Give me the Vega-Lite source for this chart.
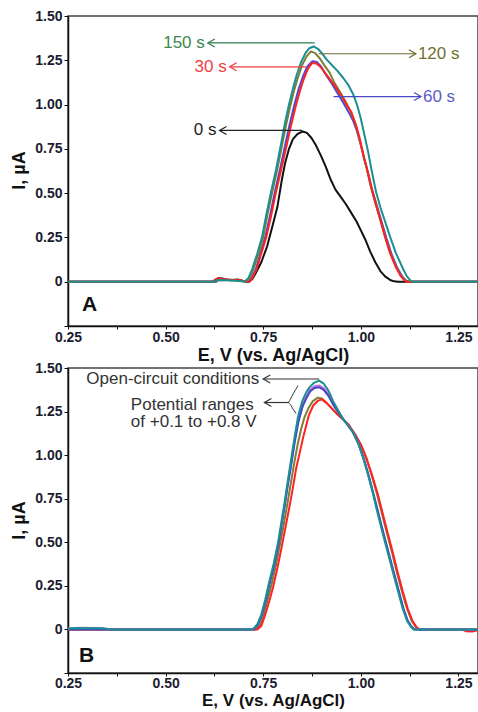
{
  "$schema": "https://vega.github.io/schema/vega-lite/v6.json",
  "padding": {"left": 10, "top": 8, "right": 0, "bottom": 0},
  "spacing": -5,
  "config": {
    "font": "Liberation Sans",
    "view": {"stroke": "#444", "strokeWidth": 1.5},
    "axis": {
      "grid": false,
      "labelFont": "Liberation Sans", "labelFontWeight": "bold", "labelFontSize": 14, "labelColor": "#1c1c30",
      "titleFont": "Liberation Sans", "titleFontWeight": "bold", "titleFontSize": 18, "titleColor": "#111",
      "domainColor": "#111", "domainWidth": 1.5, "tickColor": "#111", "tickWidth": 1
    }
  },
  "datasets": {
    "curvesA": [
      {"s":"0 s","E":0.25,"I":0},{"s":"0 s","E":0.62,"I":0},{"s":"0 s","E":0.628,"I":0.012},{"s":"0 s","E":0.635,"I":0.02},{"s":"0 s","E":0.645,"I":0.018},{"s":"0 s","E":0.655,"I":0.012},{"s":"0 s","E":0.67,"I":0.01},{"s":"0 s","E":0.685,"I":0.012},{"s":"0 s","E":0.695,"I":0.006},{"s":"0 s","E":0.705,"I":0.002},{"s":"0 s","E":0.714,"I":0},{"s":"0 s","E":0.722,"I":0.015},{"s":"0 s","E":0.73,"I":0.045},{"s":"0 s","E":0.745,"I":0.11},{"s":"0 s","E":0.76,"I":0.2},{"s":"0 s","E":0.772,"I":0.3},{"s":"0 s","E":0.786,"I":0.42},{"s":"0 s","E":0.798,"I":0.58},{"s":"0 s","E":0.806,"I":0.67},{"s":"0 s","E":0.816,"I":0.75},{"s":"0 s","E":0.826,"I":0.805},{"s":"0 s","E":0.838,"I":0.835},{"s":"0 s","E":0.851,"I":0.848},{"s":"0 s","E":0.862,"I":0.84},{"s":"0 s","E":0.874,"I":0.81},{"s":"0 s","E":0.885,"I":0.77},{"s":"0 s","E":0.898,"I":0.71},{"s":"0 s","E":0.91,"I":0.65},{"s":"0 s","E":0.922,"I":0.58},{"s":"0 s","E":0.935,"I":0.52},{"s":"0 s","E":0.948,"I":0.48},{"s":"0 s","E":0.961,"I":0.44},{"s":"0 s","E":0.975,"I":0.39},{"s":"0 s","E":0.989,"I":0.34},{"s":"0 s","E":1.0,"I":0.29},{"s":"0 s","E":1.011,"I":0.24},{"s":"0 s","E":1.024,"I":0.17},{"s":"0 s","E":1.037,"I":0.11},{"s":"0 s","E":1.05,"I":0.06},{"s":"0 s","E":1.062,"I":0.03},{"s":"0 s","E":1.075,"I":0.01},{"s":"0 s","E":1.085,"I":0.002},{"s":"0 s","E":1.095,"I":0},{"s":"0 s","E":1.3,"I":0},

      {"s":"60 s","E":0.25,"I":0},{"s":"60 s","E":0.63,"I":0},{"s":"60 s","E":0.635,"I":0.012},{"s":"60 s","E":0.66,"I":0.01},{"s":"60 s","E":0.69,"I":0.008},{"s":"60 s","E":0.7,"I":0.003},{"s":"60 s","E":0.712,"I":0},{"s":"60 s","E":0.72,"I":0.02},{"s":"60 s","E":0.731,"I":0.07},{"s":"60 s","E":0.743,"I":0.16},{"s":"60 s","E":0.756,"I":0.26},{"s":"60 s","E":0.768,"I":0.38},{"s":"60 s","E":0.78,"I":0.51},{"s":"60 s","E":0.794,"I":0.645},{"s":"60 s","E":0.806,"I":0.77},{"s":"60 s","E":0.818,"I":0.89},{"s":"60 s","E":0.83,"I":1.0},{"s":"60 s","E":0.841,"I":1.09},{"s":"60 s","E":0.852,"I":1.16},{"s":"60 s","E":0.863,"I":1.215},{"s":"60 s","E":0.876,"I":1.245},{"s":"60 s","E":0.887,"I":1.24},{"s":"60 s","E":0.898,"I":1.215},{"s":"60 s","E":0.91,"I":1.17},{"s":"60 s","E":0.925,"I":1.12},{"s":"60 s","E":0.94,"I":1.065},{"s":"60 s","E":0.955,"I":1.01},{"s":"60 s","E":0.968,"I":0.96},{"s":"60 s","E":0.98,"I":0.91},{"s":"60 s","E":0.99,"I":0.85},{"s":"60 s","E":1.0,"I":0.77},{"s":"60 s","E":1.01,"I":0.68},{"s":"60 s","E":1.019,"I":0.61},{"s":"60 s","E":1.03,"I":0.51},{"s":"60 s","E":1.041,"I":0.43},{"s":"60 s","E":1.053,"I":0.34},{"s":"60 s","E":1.065,"I":0.25},{"s":"60 s","E":1.078,"I":0.16},{"s":"60 s","E":1.093,"I":0.08},{"s":"60 s","E":1.106,"I":0.03},{"s":"60 s","E":1.115,"I":0.008},{"s":"60 s","E":1.122,"I":0},{"s":"60 s","E":1.3,"I":0},

      {"s":"120 s","E":0.25,"I":0},{"s":"120 s","E":0.628,"I":0},{"s":"120 s","E":0.632,"I":0.01},{"s":"120 s","E":0.66,"I":0.008},{"s":"120 s","E":0.69,"I":0.006},{"s":"120 s","E":0.7,"I":0.002},{"s":"120 s","E":0.706,"I":0},{"s":"120 s","E":0.715,"I":0.02},{"s":"120 s","E":0.725,"I":0.07},{"s":"120 s","E":0.738,"I":0.16},{"s":"120 s","E":0.75,"I":0.253},{"s":"120 s","E":0.761,"I":0.38},{"s":"120 s","E":0.773,"I":0.506},{"s":"120 s","E":0.786,"I":0.635},{"s":"120 s","E":0.798,"I":0.77},{"s":"120 s","E":0.809,"I":0.89},{"s":"120 s","E":0.819,"I":0.99},{"s":"120 s","E":0.829,"I":1.08},{"s":"120 s","E":0.839,"I":1.155},{"s":"120 s","E":0.85,"I":1.225},{"s":"120 s","E":0.861,"I":1.272},{"s":"120 s","E":0.872,"I":1.3},{"s":"120 s","E":0.883,"I":1.29},{"s":"120 s","E":0.895,"I":1.26},{"s":"120 s","E":0.907,"I":1.22},{"s":"120 s","E":0.92,"I":1.18},{"s":"120 s","E":0.933,"I":1.12},{"s":"120 s","E":0.947,"I":1.07},{"s":"120 s","E":0.96,"I":1.02},{"s":"120 s","E":0.973,"I":0.965},{"s":"120 s","E":0.985,"I":0.9},{"s":"120 s","E":0.995,"I":0.82},{"s":"120 s","E":1.005,"I":0.73},{"s":"120 s","E":1.014,"I":0.65},{"s":"120 s","E":1.024,"I":0.55},{"s":"120 s","E":1.035,"I":0.46},{"s":"120 s","E":1.047,"I":0.37},{"s":"120 s","E":1.06,"I":0.27},{"s":"120 s","E":1.073,"I":0.18},{"s":"120 s","E":1.088,"I":0.095},{"s":"120 s","E":1.102,"I":0.035},{"s":"120 s","E":1.112,"I":0.01},{"s":"120 s","E":1.12,"I":0},{"s":"120 s","E":1.3,"I":0},

      {"s":"30 s","E":0.25,"I":0},{"s":"30 s","E":0.62,"I":0},{"s":"30 s","E":0.628,"I":0.012},{"s":"30 s","E":0.635,"I":0.02},{"s":"30 s","E":0.645,"I":0.016},{"s":"30 s","E":0.66,"I":0.012},{"s":"30 s","E":0.675,"I":0.01},{"s":"30 s","E":0.69,"I":0.01},{"s":"30 s","E":0.7,"I":0.004},{"s":"30 s","E":0.714,"I":0},{"s":"30 s","E":0.722,"I":0.02},{"s":"30 s","E":0.733,"I":0.07},{"s":"30 s","E":0.745,"I":0.16},{"s":"30 s","E":0.758,"I":0.253},{"s":"30 s","E":0.77,"I":0.37},{"s":"30 s","E":0.782,"I":0.5},{"s":"30 s","E":0.796,"I":0.635},{"s":"30 s","E":0.808,"I":0.75},{"s":"30 s","E":0.82,"I":0.87},{"s":"30 s","E":0.832,"I":0.98},{"s":"30 s","E":0.843,"I":1.07},{"s":"30 s","E":0.853,"I":1.14},{"s":"30 s","E":0.864,"I":1.2},{"s":"30 s","E":0.875,"I":1.235},{"s":"30 s","E":0.886,"I":1.232},{"s":"30 s","E":0.897,"I":1.212},{"s":"30 s","E":0.908,"I":1.18},{"s":"30 s","E":0.92,"I":1.145},{"s":"30 s","E":0.935,"I":1.1},{"s":"30 s","E":0.95,"I":1.05},{"s":"30 s","E":0.963,"I":1.0},{"s":"30 s","E":0.976,"I":0.955},{"s":"30 s","E":0.988,"I":0.88},{"s":"30 s","E":0.998,"I":0.8},{"s":"30 s","E":1.008,"I":0.7},{"s":"30 s","E":1.016,"I":0.635},{"s":"30 s","E":1.027,"I":0.53},{"s":"30 s","E":1.038,"I":0.44},{"s":"30 s","E":1.05,"I":0.35},{"s":"30 s","E":1.062,"I":0.253},{"s":"30 s","E":1.075,"I":0.16},{"s":"30 s","E":1.09,"I":0.08},{"s":"30 s","E":1.103,"I":0.03},{"s":"30 s","E":1.112,"I":0.008},{"s":"30 s","E":1.118,"I":0},{"s":"30 s","E":1.3,"I":0},

      {"s":"150 s","E":0.25,"I":0},{"s":"150 s","E":0.628,"I":0},{"s":"150 s","E":0.632,"I":0.01},{"s":"150 s","E":0.66,"I":0.008},{"s":"150 s","E":0.68,"I":0.006},{"s":"150 s","E":0.695,"I":0.003},{"s":"150 s","E":0.702,"I":0},{"s":"150 s","E":0.712,"I":0.02},{"s":"150 s","E":0.722,"I":0.073},{"s":"150 s","E":0.735,"I":0.16},{"s":"150 s","E":0.747,"I":0.253},{"s":"150 s","E":0.758,"I":0.38},{"s":"150 s","E":0.77,"I":0.506},{"s":"150 s","E":0.783,"I":0.635},{"s":"150 s","E":0.795,"I":0.77},{"s":"150 s","E":0.806,"I":0.9},{"s":"150 s","E":0.816,"I":1.0},{"s":"150 s","E":0.826,"I":1.09},{"s":"150 s","E":0.836,"I":1.17},{"s":"150 s","E":0.847,"I":1.24},{"s":"150 s","E":0.858,"I":1.29},{"s":"150 s","E":0.868,"I":1.318},{"s":"150 s","E":0.879,"I":1.328},{"s":"150 s","E":0.89,"I":1.315},{"s":"150 s","E":0.9,"I":1.29},{"s":"150 s","E":0.912,"I":1.255},{"s":"150 s","E":0.925,"I":1.225},{"s":"150 s","E":0.94,"I":1.19},{"s":"150 s","E":0.955,"I":1.15},{"s":"150 s","E":0.968,"I":1.11},{"s":"150 s","E":0.98,"I":1.06},{"s":"150 s","E":0.99,"I":1.0},{"s":"150 s","E":1.0,"I":0.92},{"s":"150 s","E":1.01,"I":0.82},{"s":"150 s","E":1.018,"I":0.74},{"s":"150 s","E":1.027,"I":0.635},{"s":"150 s","E":1.039,"I":0.506},{"s":"150 s","E":1.05,"I":0.42},{"s":"150 s","E":1.062,"I":0.34},{"s":"150 s","E":1.075,"I":0.253},{"s":"150 s","E":1.09,"I":0.16},{"s":"150 s","E":1.108,"I":0.073},{"s":"150 s","E":1.118,"I":0.03},{"s":"150 s","E":1.128,"I":0.005},{"s":"150 s","E":1.135,"I":0},{"s":"150 s","E":1.3,"I":0}
    ],
    "curvesB": [
      {"s":"R4","E":0.25,"I":0},{"s":"R4","E":0.73,"I":0},{"s":"R4","E":0.741,"I":0.02},{"s":"R4","E":0.75,"I":0.075},{"s":"R4","E":0.76,"I":0.16},{"s":"R4","E":0.771,"I":0.255},{"s":"R4","E":0.782,"I":0.365},{"s":"R4","E":0.792,"I":0.48},{"s":"R4","E":0.802,"I":0.595},{"s":"R4","E":0.811,"I":0.71},{"s":"R4","E":0.82,"I":0.83},{"s":"R4","E":0.829,"I":0.95},{"s":"R4","E":0.838,"I":1.06},{"s":"R4","E":0.847,"I":1.15},{"s":"R4","E":0.856,"I":1.22},{"s":"R4","E":0.866,"I":1.27},{"s":"R4","E":0.877,"I":1.31},{"s":"R4","E":0.89,"I":1.33},{"s":"R4","E":0.9,"I":1.325},{"s":"R4","E":0.912,"I":1.3},{"s":"R4","E":0.925,"I":1.27},{"s":"R4","E":0.94,"I":1.235},{"s":"R4","E":0.957,"I":1.2},{"s":"R4","E":0.97,"I":1.17},{"s":"R4","E":0.985,"I":1.12},{"s":"R4","E":1.0,"I":1.06},{"s":"R4","E":1.013,"I":0.99},{"s":"R4","E":1.027,"I":0.89},{"s":"R4","E":1.041,"I":0.78},{"s":"R4","E":1.054,"I":0.665},{"s":"R4","E":1.067,"I":0.55},{"s":"R4","E":1.08,"I":0.44},{"s":"R4","E":1.092,"I":0.33},{"s":"R4","E":1.105,"I":0.22},{"s":"R4","E":1.118,"I":0.12},{"s":"R4","E":1.13,"I":0.05},{"s":"R4","E":1.14,"I":0.015},{"s":"R4","E":1.148,"I":0},{"s":"R4","E":1.3,"I":0},

      {"s":"R1","E":0.25,"I":0},{"s":"R1","E":0.735,"I":0},{"s":"R1","E":0.745,"I":0.02},{"s":"R1","E":0.753,"I":0.07},{"s":"R1","E":0.764,"I":0.15},{"s":"R1","E":0.775,"I":0.24},{"s":"R1","E":0.786,"I":0.35},{"s":"R1","E":0.796,"I":0.46},{"s":"R1","E":0.806,"I":0.575},{"s":"R1","E":0.816,"I":0.69},{"s":"R1","E":0.825,"I":0.8},{"s":"R1","E":0.834,"I":0.92},{"s":"R1","E":0.843,"I":1.01},{"s":"R1","E":0.852,"I":1.1},{"s":"R1","E":0.86,"I":1.17},{"s":"R1","E":0.867,"I":1.23},{"s":"R1","E":0.878,"I":1.285},{"s":"R1","E":0.89,"I":1.312},{"s":"R1","E":0.9,"I":1.32},{"s":"R1","E":0.912,"I":1.3},{"s":"R1","E":0.925,"I":1.27},{"s":"R1","E":0.94,"I":1.235},{"s":"R1","E":0.957,"I":1.2},{"s":"R1","E":0.97,"I":1.17},{"s":"R1","E":0.985,"I":1.12},{"s":"R1","E":1.0,"I":1.06},{"s":"R1","E":1.013,"I":0.99},{"s":"R1","E":1.028,"I":0.89},{"s":"R1","E":1.043,"I":0.78},{"s":"R1","E":1.056,"I":0.665},{"s":"R1","E":1.069,"I":0.55},{"s":"R1","E":1.082,"I":0.44},{"s":"R1","E":1.094,"I":0.33},{"s":"R1","E":1.107,"I":0.22},{"s":"R1","E":1.12,"I":0.12},{"s":"R1","E":1.132,"I":0.05},{"s":"R1","E":1.142,"I":0.015},{"s":"R1","E":1.15,"I":0},{"s":"R1","E":1.26,"I":0},{"s":"R1","E":1.268,"I":-0.01},{"s":"R1","E":1.285,"I":-0.012},{"s":"R1","E":1.3,"I":-0.004},

      {"s":"R3","E":0.25,"I":0.005},{"s":"R3","E":0.28,"I":0.01},{"s":"R3","E":0.34,"I":0.008},{"s":"R3","E":0.35,"I":0},{"s":"R3","E":0.725,"I":0},{"s":"R3","E":0.736,"I":0.025},{"s":"R3","E":0.746,"I":0.08},{"s":"R3","E":0.756,"I":0.165},{"s":"R3","E":0.766,"I":0.265},{"s":"R3","E":0.778,"I":0.375},{"s":"R3","E":0.789,"I":0.495},{"s":"R3","E":0.797,"I":0.605},{"s":"R3","E":0.805,"I":0.715},{"s":"R3","E":0.813,"I":0.835},{"s":"R3","E":0.822,"I":0.96},{"s":"R3","E":0.831,"I":1.09},{"s":"R3","E":0.84,"I":1.2},{"s":"R3","E":0.851,"I":1.29},{"s":"R3","E":0.861,"I":1.34},{"s":"R3","E":0.87,"I":1.375},{"s":"R3","E":0.881,"I":1.395},{"s":"R3","E":0.893,"I":1.4},{"s":"R3","E":0.905,"I":1.385},{"s":"R3","E":0.917,"I":1.35},{"s":"R3","E":0.929,"I":1.3},{"s":"R3","E":0.941,"I":1.255},{"s":"R3","E":0.954,"I":1.21},{"s":"R3","E":0.967,"I":1.17},{"s":"R3","E":0.98,"I":1.13},{"s":"R3","E":0.993,"I":1.07},{"s":"R3","E":1.006,"I":0.99},{"s":"R3","E":1.019,"I":0.89},{"s":"R3","E":1.032,"I":0.78},{"s":"R3","E":1.045,"I":0.665},{"s":"R3","E":1.058,"I":0.55},{"s":"R3","E":1.071,"I":0.44},{"s":"R3","E":1.084,"I":0.33},{"s":"R3","E":1.097,"I":0.22},{"s":"R3","E":1.109,"I":0.12},{"s":"R3","E":1.12,"I":0.05},{"s":"R3","E":1.13,"I":0.015},{"s":"R3","E":1.138,"I":0},{"s":"R3","E":1.3,"I":0},

      {"s":"R2","E":0.25,"I":0},{"s":"R2","E":0.725,"I":0},{"s":"R2","E":0.736,"I":0.025},{"s":"R2","E":0.746,"I":0.08},{"s":"R2","E":0.756,"I":0.16},{"s":"R2","E":0.766,"I":0.26},{"s":"R2","E":0.778,"I":0.37},{"s":"R2","E":0.789,"I":0.49},{"s":"R2","E":0.797,"I":0.6},{"s":"R2","E":0.805,"I":0.71},{"s":"R2","E":0.813,"I":0.83},{"s":"R2","E":0.822,"I":0.95},{"s":"R2","E":0.831,"I":1.08},{"s":"R2","E":0.84,"I":1.19},{"s":"R2","E":0.851,"I":1.28},{"s":"R2","E":0.861,"I":1.33},{"s":"R2","E":0.87,"I":1.365},{"s":"R2","E":0.881,"I":1.385},{"s":"R2","E":0.893,"I":1.39},{"s":"R2","E":0.905,"I":1.375},{"s":"R2","E":0.917,"I":1.34},{"s":"R2","E":0.929,"I":1.29},{"s":"R2","E":0.941,"I":1.25},{"s":"R2","E":0.954,"I":1.21},{"s":"R2","E":0.967,"I":1.17},{"s":"R2","E":0.98,"I":1.13},{"s":"R2","E":0.993,"I":1.07},{"s":"R2","E":1.006,"I":0.99},{"s":"R2","E":1.019,"I":0.89},{"s":"R2","E":1.032,"I":0.78},{"s":"R2","E":1.045,"I":0.665},{"s":"R2","E":1.058,"I":0.55},{"s":"R2","E":1.071,"I":0.44},{"s":"R2","E":1.084,"I":0.33},{"s":"R2","E":1.097,"I":0.22},{"s":"R2","E":1.109,"I":0.12},{"s":"R2","E":1.12,"I":0.05},{"s":"R2","E":1.13,"I":0.015},{"s":"R2","E":1.138,"I":0},{"s":"R2","E":1.3,"I":0},

      {"s":"OC","E":0.25,"I":0.005},{"s":"OC","E":0.27,"I":0.008},{"s":"OC","E":0.33,"I":0.007},{"s":"OC","E":0.35,"I":0.004},{"s":"OC","E":0.36,"I":0},{"s":"OC","E":0.72,"I":0},{"s":"OC","E":0.724,"I":0.002},{"s":"OC","E":0.735,"I":0.03},{"s":"OC","E":0.745,"I":0.085},{"s":"OC","E":0.755,"I":0.17},{"s":"OC","E":0.765,"I":0.27},{"s":"OC","E":0.777,"I":0.38},{"s":"OC","E":0.788,"I":0.5},{"s":"OC","E":0.796,"I":0.61},{"s":"OC","E":0.804,"I":0.72},{"s":"OC","E":0.812,"I":0.84},{"s":"OC","E":0.821,"I":0.97},{"s":"OC","E":0.83,"I":1.1},{"s":"OC","E":0.839,"I":1.22},{"s":"OC","E":0.85,"I":1.31},{"s":"OC","E":0.86,"I":1.36},{"s":"OC","E":0.869,"I":1.39},{"s":"OC","E":0.88,"I":1.415},{"s":"OC","E":0.893,"I":1.428},{"s":"OC","E":0.905,"I":1.41},{"s":"OC","E":0.917,"I":1.37},{"s":"OC","E":0.929,"I":1.31},{"s":"OC","E":0.941,"I":1.26},{"s":"OC","E":0.954,"I":1.21},{"s":"OC","E":0.967,"I":1.17},{"s":"OC","E":0.98,"I":1.13},{"s":"OC","E":0.993,"I":1.07},{"s":"OC","E":1.005,"I":0.99},{"s":"OC","E":1.018,"I":0.89},{"s":"OC","E":1.031,"I":0.78},{"s":"OC","E":1.043,"I":0.665},{"s":"OC","E":1.056,"I":0.55},{"s":"OC","E":1.069,"I":0.44},{"s":"OC","E":1.082,"I":0.33},{"s":"OC","E":1.095,"I":0.22},{"s":"OC","E":1.107,"I":0.12},{"s":"OC","E":1.118,"I":0.05},{"s":"OC","E":1.128,"I":0.015},{"s":"OC","E":1.135,"I":0},{"s":"OC","E":1.3,"I":0}
    ],
    "arrowsA": [
      {"s":"150 s","E":0.882,"E2":0.608,"I":1.348,"dir":"L"},
      {"s":"30 s","E":0.859,"E2":0.664,"I":1.213,"dir":"L"},
      {"s":"0 s","E":0.849,"E2":0.638,"I":0.854,"dir":"L"},
      {"s":"120 s","E":0.892,"E2":1.141,"I":1.287,"dir":"R"},
      {"s":"60 s","E":0.93,"E2":1.154,"I":1.045,"dir":"R"}
    ],
    "arrowsB": [
      {"E":0.893,"E2":0.75,"I":1.437,"dir":"L"},
      {"E":0.816,"E2":0.753,"I":1.302,"dir":"L"}
    ]
  },
  "vconcat": [
    {
      "width": 410, "height": 310,
      "resolve": {"scale": {"color": "independent"}},
      "layer": [
        {
          "data": {"name": "curvesA"},
          "mark": {"type": "line", "strokeWidth": 2, "strokeJoin": "round"},
          "encoding": {
            "x": {"field": "E", "type": "quantitative", "scale": {"domain": [0.25, 1.3], "nice": false, "zero": false}, "title": "E, V (vs. Ag/AgCl)",
              "axis": {"values": [0.25,0.375,0.5,0.625,0.75,0.875,1.0,1.125,1.25], "ticks": true, "tickSize": 3, "labelPadding": 1, "titlePadding": 2, "labelOverlap": false, "labelFlush": false,
                "labelExpr": "abs(datum.value*4-round(datum.value*4))>0.01 ? '' : format(datum.value,'.2f')"}},
            "y": {"field": "I", "type": "quantitative", "scale": {"domain": [-0.25, 1.5], "nice": false}, "title": "I, µA",
              "axis": {"values": [-0.25,-0.125,0,0.125,0.25,0.375,0.5,0.625,0.75,0.875,1.0,1.125,1.25,1.375,1.5], "ticks": true, "tickSize": 4, "labelPadding": 2, "titlePadding": 6, "labelOverlap": false, "labelFlush": false, "titleY": 154,
                "labelExpr": "datum.value==0 ? '0' : (datum.value<0 || abs(datum.value*4-round(datum.value*4))>0.01) ? '' : format(datum.value,'.2f')"}},
            "color": {"field": "s", "type": "nominal", "legend": null, "sort": null,
              "scale": {"domain": ["0 s","60 s","120 s","30 s","150 s"], "range": ["#111111","#4a4ad0","#7d7d35","#ff2222","#1b9090"]}}
          }
        },
        {
          "data": {"name": "arrowsA"},
          "mark": {"type": "rule", "strokeWidth": 1.2},
          "encoding": {
            "x": {"field": "E", "type": "quantitative"},
            "x2": {"field": "E2"},
            "y": {"field": "I", "type": "quantitative"},
            "color": {"field": "s", "type": "nominal", "legend": null,
              "scale": {"domain": ["150 s","120 s","60 s","30 s","0 s"], "range": ["#2e7d4f","#6b6b2e","#4a4ac0","#f03c3c","#222222"]}}
          }
        },
        {
          "data": {"name": "arrowsA"},
          "mark": {"type": "point", "filled": false, "strokeWidth": 1.2, "size": 64, "opacity": 1},
          "encoding": {
            "x": {"field": "E2", "type": "quantitative"},
            "y": {"field": "I", "type": "quantitative"},
            "shape": {"field": "dir", "type": "nominal", "legend": null,
              "scale": {"domain": ["L","R"], "range": ["M 1.75 -1 L 0 0 L 1.75 1", "M -1.75 -1 L 0 0 L -1.75 1"]}},
            "color": {"field": "s", "type": "nominal", "legend": null,
              "scale": {"domain": ["150 s","120 s","60 s","30 s","0 s"], "range": ["#2e7d4f","#6b6b2e","#4a4ac0","#f03c3c","#222222"]}}
          }
        },
        {
          "data": {"name": "arrowsA"},
          "transform": [{"filter": "datum.dir == 'L'"}],
          "mark": {"type": "text", "align": "right", "baseline": "middle", "dx": -3, "fontSize": 17},
          "encoding": {
            "x": {"field": "E2", "type": "quantitative"},
            "y": {"field": "I", "type": "quantitative"},
            "text": {"field": "s"},
            "color": {"field": "s", "type": "nominal", "legend": null,
              "scale": {"domain": ["150 s","120 s","60 s","30 s","0 s"], "range": ["#3a8a4a","#707030","#5a5ac8","#f04040","#222222"]}}
          }
        },
        {
          "data": {"name": "arrowsA"},
          "transform": [{"filter": "datum.dir == 'R'"}],
          "mark": {"type": "text", "align": "left", "baseline": "middle", "dx": 2, "fontSize": 17},
          "encoding": {
            "x": {"field": "E2", "type": "quantitative"},
            "y": {"field": "I", "type": "quantitative"},
            "text": {"field": "s"},
            "color": {"field": "s", "type": "nominal", "legend": null,
              "scale": {"domain": ["150 s","120 s","60 s","30 s","0 s"], "range": ["#3a8a4a","#707030","#5a5ac8","#f04040","#222222"]}}
          }
        },
        {
          "data": {"values": [{"t": "A", "E": 0.286, "I": -0.129}]},
          "mark": {"type": "text", "align": "left", "baseline": "middle", "fontSize": 21, "fontWeight": "bold", "color": "#111"},
          "encoding": {
            "x": {"field": "E", "type": "quantitative"},
            "y": {"field": "I", "type": "quantitative"},
            "text": {"field": "t"}
          }
        }
      ]
    },
    {
      "width": 410, "height": 305,
      "layer": [
        {
          "data": {"name": "curvesB"},
          "mark": {"type": "line", "strokeWidth": 2, "strokeJoin": "round"},
          "encoding": {
            "x": {"field": "E", "type": "quantitative", "scale": {"domain": [0.25, 1.3], "nice": false, "zero": false}, "title": "E, V (vs. Ag/AgCl)",
              "axis": {"values": [0.25,0.375,0.5,0.625,0.75,0.875,1.0,1.125,1.25], "ticks": true, "tickSize": 3, "labelPadding": 0, "titlePadding": 2, "titleFontSize": 17, "labelOverlap": false, "labelFlush": false,
                "labelExpr": "abs(datum.value*4-round(datum.value*4))>0.01 ? '' : format(datum.value,'.2f')"}},
            "y": {"field": "I", "type": "quantitative", "scale": {"domain": [-0.25, 1.5], "nice": false}, "title": "I, µA",
              "axis": {"values": [-0.25,-0.125,0,0.125,0.25,0.375,0.5,0.625,0.75,0.875,1.0,1.125,1.25,1.375,1.5], "ticks": true, "tickSize": 4, "labelPadding": 2, "titlePadding": 6, "labelOverlap": false, "labelFlush": false, "titleY": 152,
                "labelExpr": "datum.value==0 ? '0' : (datum.value<0 || abs(datum.value*4-round(datum.value*4))>0.01) ? '' : format(datum.value,'.2f')"}},
            "color": {"field": "s", "type": "nominal", "legend": null, "sort": null,
              "scale": {"domain": ["R4","R1","R3","R2","OC"], "range": ["#7d7d35","#ff2222","#d070d8","#4444cc","#1b9090"]}}
          }
        },
        {
          "data": {"name": "arrowsB"},
          "mark": {"type": "rule", "strokeWidth": 1.2, "color": "#333"},
          "encoding": {
            "x": {"field": "E", "type": "quantitative"},
            "x2": {"field": "E2"},
            "y": {"field": "I", "type": "quantitative"}
          }
        },
        {
          "data": {"name": "arrowsB"},
          "mark": {"type": "point", "filled": false, "strokeWidth": 1.2, "size": 64, "opacity": 1, "color": "#333",
            "shape": "M 1.75 -1 L 0 0 L 1.75 1"},
          "encoding": {
            "x": {"field": "E2", "type": "quantitative"},
            "y": {"field": "I", "type": "quantitative"}
          }
        },
        {
          "data": {"values": [{"t": "Open-circuit conditions", "E": 0.75, "I": 1.437}]},
          "mark": {"type": "text", "align": "right", "baseline": "middle", "dx": -4, "fontSize": 17, "color": "#333"},
          "encoding": {
            "x": {"field": "E", "type": "quantitative"},
            "y": {"field": "I", "type": "quantitative"},
            "text": {"field": "t"}
          }
        },
        {
          "data": {"values": [{"t": "Potential ranges", "E": 0.411, "I": 1.29}, {"t": "of +0.1 to +0.8 V", "E": 0.411, "I": 1.188}]},
          "mark": {"type": "text", "align": "left", "baseline": "middle", "fontSize": 17, "color": "#333"},
          "encoding": {
            "x": {"field": "E", "type": "quantitative"},
            "y": {"field": "I", "type": "quantitative"},
            "text": {"field": "t"}
          }
        },
        {
          "data": {"values": [
            {"k": 1, "E": 0.839, "I": 1.398}, {"k": 2, "E": 0.827, "I": 1.353}, {"k": 3, "E": 0.819, "I": 1.319},
            {"k": 4, "E": 0.814, "I": 1.302}, {"k": 5, "E": 0.821, "I": 1.285}, {"k": 6, "E": 0.827, "I": 1.262}, {"k": 7, "E": 0.834, "I": 1.239}
          ]},
          "mark": {"type": "line", "strokeWidth": 1, "color": "#333", "interpolate": "monotone"},
          "encoding": {
            "x": {"field": "E", "type": "quantitative"},
            "y": {"field": "I", "type": "quantitative"},
            "order": {"field": "k"}
          }
        },
        {
          "data": {"values": [{"t": "B", "E": 0.278, "I": -0.153}]},
          "mark": {"type": "text", "align": "left", "baseline": "middle", "fontSize": 21, "fontWeight": "bold", "color": "#111"},
          "encoding": {
            "x": {"field": "E", "type": "quantitative"},
            "y": {"field": "I", "type": "quantitative"},
            "text": {"field": "t"}
          }
        }
      ]
    }
  ]
}
